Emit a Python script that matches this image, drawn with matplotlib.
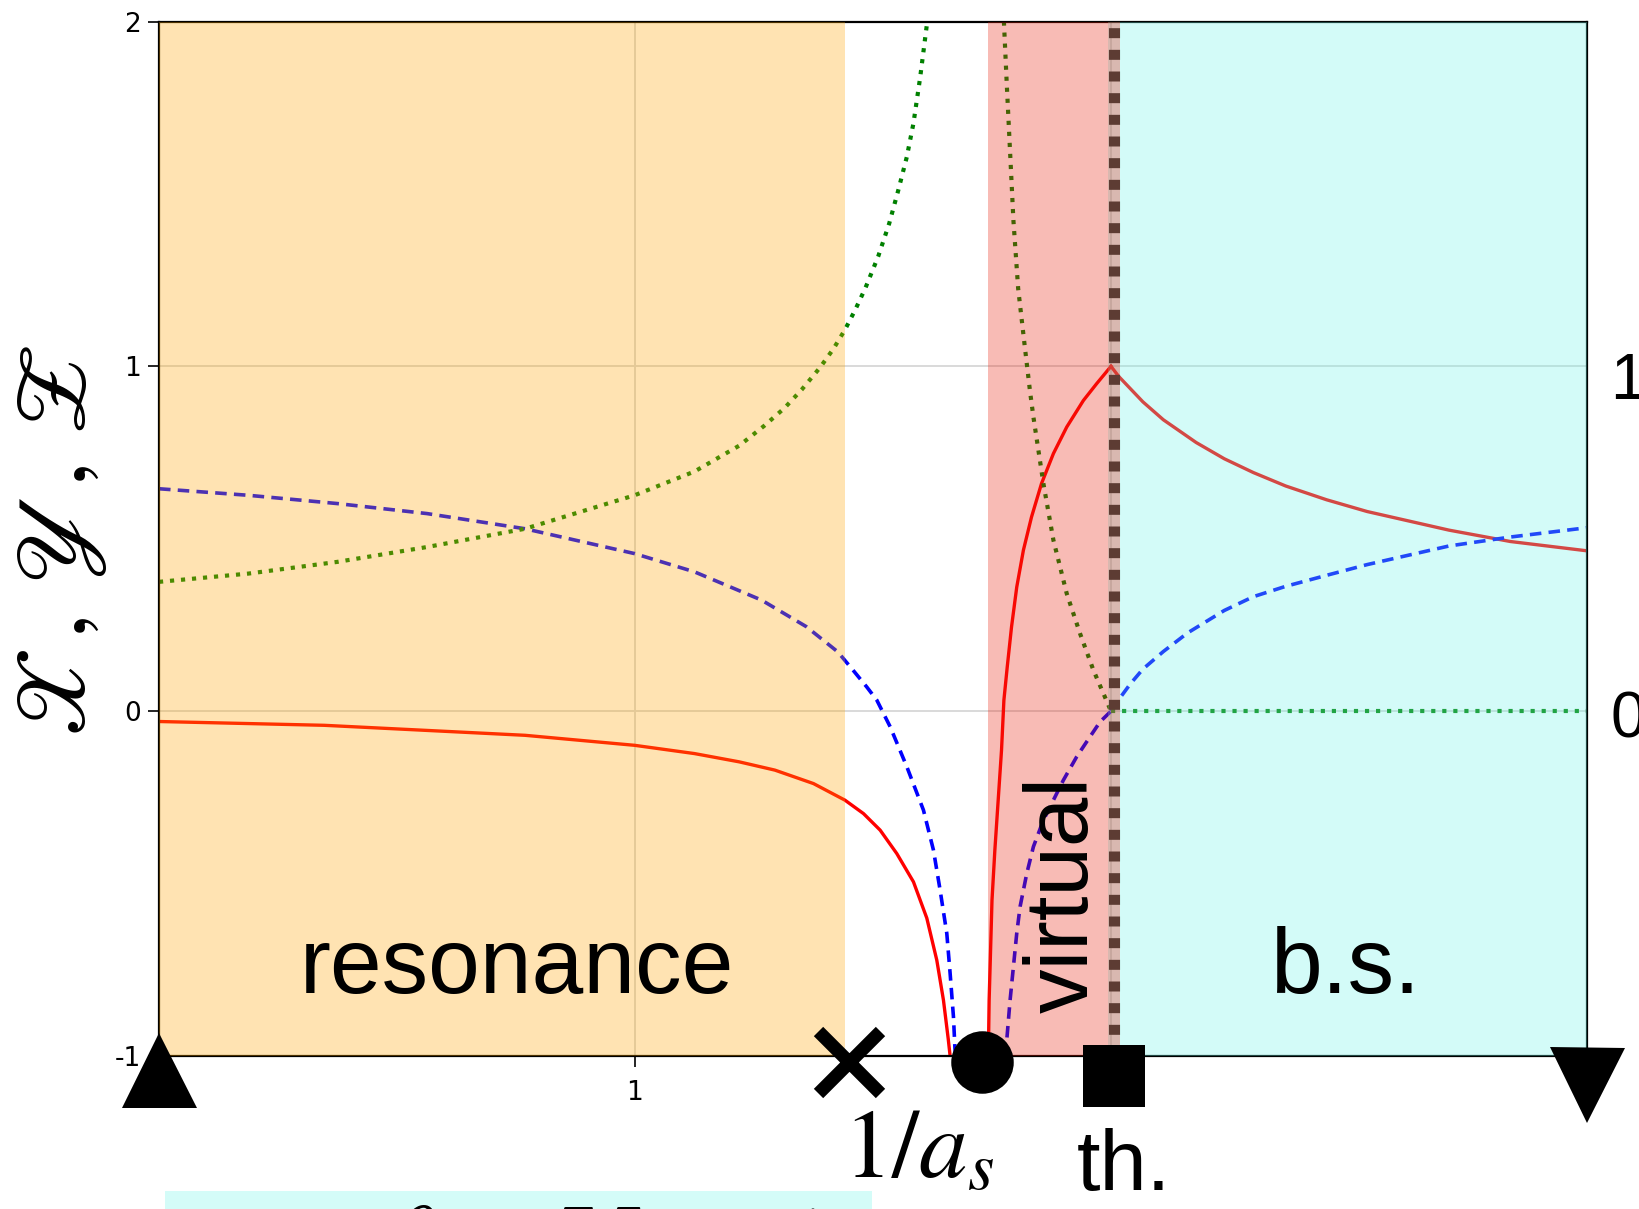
import numpy as np
import matplotlib
matplotlib.use("Agg")
import matplotlib.pyplot as plt
from matplotlib.patches import Rectangle

# ---------------- data ----------------
# red solid curve, three branches
red_res_x = [0.0, 0.347, 0.769, 0.999, 1.125, 1.219, 1.294, 1.375, 1.441, 1.48, 1.515, 1.55, 1.585,
             1.613, 1.634, 1.648, 1.658, 1.662]
red_res_y = [-0.03, -0.041, -0.07, -0.099, -0.123, -0.147, -0.171, -0.21, -0.258, -0.297, -0.345,
             -0.413, -0.495, -0.6, -0.722, -0.838, -0.95, -1.0]
red_vir_x = [1.742, 1.743, 1.744, 1.747, 1.750, 1.756, 1.763, 1.770, 1.775, 1.782, 1.791, 1.802,
             1.816, 1.833, 1.854, 1.879, 1.907, 1.942, 1.970, 2.0]
red_vir_y = [-1.0, -0.934, -0.838, -0.693, -0.548, -0.403, -0.258, -0.113, 0.032, 0.128, 0.244,
             0.36, 0.467, 0.563, 0.66, 0.747, 0.824, 0.901, 0.95, 1.0]
red_bs_x = [2.0, 2.016, 2.067, 2.110, 2.179, 2.238, 2.299, 2.367, 2.453, 2.538, 2.624, 2.710, 2.839, 3.0]
red_bs_y = [1.0, 0.971, 0.897, 0.845, 0.779, 0.732, 0.692, 0.653, 0.613, 0.579, 0.552, 0.525, 0.492, 0.465]

# blue dashed curve
blue_res_x = [0.0, 0.188, 0.375, 0.563, 0.769, 0.999, 1.125, 1.266, 1.36, 1.426, 1.458, 1.487, 1.508,
              1.536, 1.571, 1.606, 1.627, 1.641, 1.655, 1.662, 1.669, 1.672, 1.673]
blue_res_y = [0.645, 0.626, 0.602, 0.573, 0.529, 0.457, 0.404, 0.322, 0.245, 0.172, 0.119, 0.07,
              0.032, -0.045, -0.161, -0.287, -0.403, -0.519, -0.644, -0.76, -0.886, -0.973, -1.0]
blue_vir_x = [1.775, 1.781, 1.788, 1.795, 1.802, 1.809, 1.823, 1.837, 1.858, 1.879, 1.900, 1.928,
              1.956, 1.977, 2.0]
blue_vir_y = [-1.0, -0.954, -0.838, -0.741, -0.644, -0.567, -0.471, -0.393, -0.316, -0.258, -0.2,
              -0.132, -0.074, -0.031, 0.0]
blue_bs_x = [2.0, 2.016, 2.04, 2.067, 2.110, 2.161, 2.238, 2.299, 2.367, 2.453, 2.538, 2.624, 2.710, 2.839, 3.0]
blue_bs_y = [0.0, 0.033, 0.078, 0.122, 0.173, 0.227, 0.292, 0.332, 0.362, 0.394, 0.425, 0.452, 0.479, 0.505, 0.532]

# green dotted curve
green_res_x = [0.0, 0.188, 0.375, 0.563, 0.769, 0.999, 1.125, 1.219, 1.271, 1.314, 1.35, 1.389, 1.417,
               1.441, 1.462, 1.484, 1.511, 1.534, 1.553, 1.571, 1.585, 1.599, 1.614]
green_res_y = [0.375, 0.399, 0.433, 0.476, 0.529, 0.626, 0.695, 0.77, 0.827, 0.879, 0.932, 0.997, 1.051,
               1.106, 1.162, 1.227, 1.319, 1.414, 1.51, 1.607, 1.705, 1.837, 2.0]
green_vir_x = [1.775, 1.781, 1.788, 1.795, 1.805, 1.819, 1.83, 1.837, 1.858, 1.879, 1.907, 1.935, 1.963, 2.0]
green_vir_y = [2.0, 1.819, 1.621, 1.423, 1.225, 1.056, 0.926, 0.853, 0.66, 0.496, 0.341, 0.225, 0.119, 0.0]
green_bs_x = [2.0, 3.0]
green_bs_y = [0.0, 0.0]

# shaded regions: (start, end)
region_resonance = (0.0, 1.441)
region_virtual = (1.742, 2.019)
region_bound = (1.994, 3.0)
threshold_x = 2.006

# special points drawn below the axis
point_x = [0.0, 1.45, 1.730, 2.006, 3.0]
point_y = [-1.041, -1.017, -1.016, -1.058, -1.084]
point_marker = ['^', 'x', 'o', 's', 'v']

y_ticks = [-1, 0, 1, 2]
x_ticks = [0, 1, 2, 3]
right_ticks = [0, 1]

# ---------------- figure ----------------
W, H = 1640, 1209
fig = plt.figure(figsize=(W / 100, H / 100), dpi=100)
ax = fig.add_axes([159 / W, 1 - 1056 / H, (1587 - 159) / W, (1056 - 21.5) / H])
ax.set_xlim(0, 3)
ax.set_ylim(-1, 2)

ax.set_axisbelow(True)
ax.grid(True, color='#d9d9d9', lw=1.4)
for s in ax.spines.values():
    s.set_linewidth(1.6)
    s.set_color('black')
    s.set_zorder(2.4)

ax.set_yticks(y_ticks)
ax.set_yticklabels([str(t) for t in y_ticks])
ax.set_xticks(x_ticks)
ax.set_xticklabels([str(t) for t in x_ticks])
ax.tick_params(axis='both', labelsize=19, length=8, width=1.2, pad=5)
ax.tick_params(axis='x', pad=9)

RED, BLUE, GREEN = '#ff0000', '#0000ff', '#008000'
for xs, ys in [(red_res_x, red_res_y), (red_vir_x, red_vir_y), (red_bs_x, red_bs_y)]:
    ax.plot(xs, ys, color=RED, lw=2.4, zorder=2, solid_joinstyle='round')
for xs, ys in [(blue_res_x, blue_res_y), (blue_vir_x, blue_vir_y), (blue_bs_x, blue_bs_y)]:
    ax.plot(xs, ys, color=BLUE, lw=2.6, dashes=(3.2, 2.0), zorder=2)
for xs, ys in [(green_res_x, green_res_y), (green_vir_x, green_vir_y), (green_bs_x, green_bs_y)]:
    ax.plot(xs, ys, color=GREEN, lw=3.0, dashes=(1.0, 1.65), zorder=2)

ax.axvline(threshold_x, color='black', lw=8, dashes=(0.9, 1.05), zorder=2.2)

# translucent regions drawn over the curves (cyan first, pink on top)
ax.axvspan(*region_resonance, color='orange', alpha=0.3, lw=0, zorder=3)
ax.axvspan(*region_bound, color=(112 / 255, 245 / 255, 232 / 255), alpha=0.3, lw=0, zorder=3)
ax.axvspan(*region_virtual, color=(232 / 255, 32 / 255, 12 / 255), alpha=0.3, lw=0, zorder=3.1)

# markers
msizes = {'^': 54, 'x': 45, 'o': 45, 's': 45, 'v': 54}
for px, py, m in zip(point_x, point_y, point_marker):
    kw = dict(color='black', ms=msizes[m], clip_on=False, zorder=6, ls='none')
    kw['mew'] = 9.5 if m == 'x' else 0
    ax.plot([px], [py], marker=m, **kw)

sans = 'Liberation Sans'
ax.text(0.752, -0.817, 'resonance', fontsize=67, family=sans, ha='center', va='baseline', zorder=7)
ax.text(2.492, -0.817, 'b.s.', fontsize=67, family=sans, ha='center', va='baseline', zorder=7)
ax.text(1.952, -0.875, 'virtual', fontsize=64, family=sans, rotation=90,
        rotation_mode='anchor', ha='left', va='baseline', zorder=7)
ax.text(1.437, -1.354, r'$1/a_s$', fontsize=70, math_fontfamily='stix',
        ha='left', va='baseline', clip_on=False, zorder=7)
ax.text(1.929, -1.388, 'th.', fontsize=61, family=sans, ha='left', va='baseline',
        clip_on=False, zorder=7)

# right-hand tick labels
ax2 = ax.twinx()
ax2.set_ylim(-1.009, 2.043)
ax2.set_yticks(right_ticks)
ax2.set_yticklabels([str(t) for t in right_ticks], family=sans)
ax2.tick_params(axis='y', length=0, labelsize=46, pad=17)
for s in ax2.spines.values():
    s.set_visible(False)

# y label
fig.text(63 / W, 1 - 541 / H, r'$\mathscr{X}\,,\,\mathscr{Y}\,,\,\mathscr{Z}$', fontsize=70,
         math_fontfamily='stix', rotation=90, ha='center', va='center')

# box at the bottom (cut off by the figure edge)
fig.patches.append(Rectangle((165 / W, 0), (872 - 165) / W, (1209 - 1191) / H,
                             transform=fig.transFigure, facecolor=(212 / 255, 252 / 255, 248 / 255),
                             edgecolor='none', zorder=0))
fig.text(387 / W, (1209 - 1280) / H, r'$\theta = V =\;\,1$', fontsize=77, math_fontfamily='cm',
         ha='left', va='baseline')

fig.savefig('out.png', dpi=100)
